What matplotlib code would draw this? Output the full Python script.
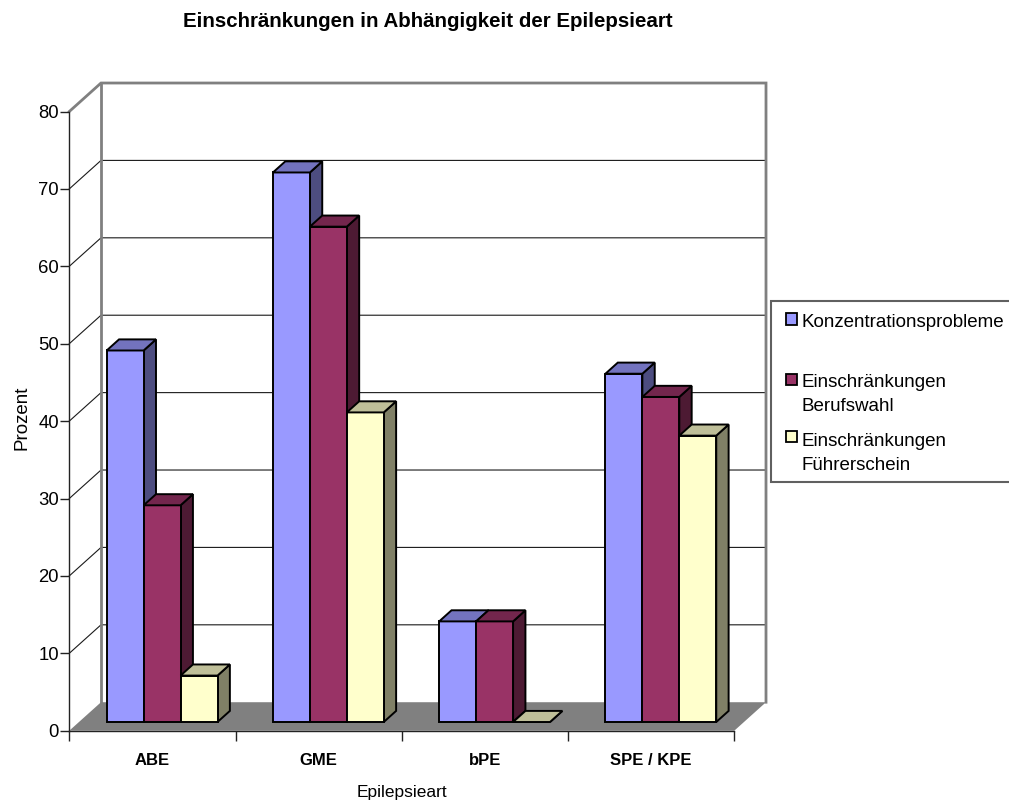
import matplotlib
matplotlib.use("Agg")
import matplotlib.pyplot as plt
import matplotlib.transforms as mtransforms
from matplotlib.patches import Polygon, Rectangle
from matplotlib.colors import to_rgb

plt.rcParams["font.family"] = ["Liberation Sans", "DejaVu Sans"]

# ---- data -------------------------------------------------------------
categories = ["ABE", "GME", "bPE", "SPE / KPE"]
series_labels = ["Konzentrationsprobleme",
                 "Einschränkungen\nBerufswahl",
                 "Einschränkungen\nFührerschein"]
konzentration = [48, 71, 13, 45]
berufswahl = [28, 64, 13, 42]
fuehrerschein = [6, 40, 0, 37]
y_ticks = [0, 10, 20, 30, 40, 50, 60, 70, 80]

series_values = [konzentration, berufswahl, fuehrerschein]
front_colors = ["#9999FF", "#993366", "#FFFFCC"]

title = "Einschränkungen in Abhängigkeit der Epilepsieart"
x_label = "Epilepsieart"
y_label = "Prozent"

# ---- oblique 3-D projection parameters (data units) --------------------
DEPTH_X = 0.1907      # horizontal shift of the back wall, in category units
DEPTH_Y = 3.68        # vertical shift of the back wall, in value units
BAR_D0, BAR_D1 = 0.305, 0.695   # depth span of the columns
GAP_WIDTH = 1.5
n_series = len(series_values)
bar_w = 1.0 / (n_series + GAP_WIDTH)
y_max = y_ticks[-1]
n_cat = len(categories)


def proj(x, v, d):
    return (x + d * DEPTH_X, v + d * DEPTH_Y)


def shade(color, f):
    r, g, b = to_rgb(color)
    return (r * f, g * f, b * f)


# ---- figure / axes ----------------------------------------------------
W, H = 1009, 800
fig = plt.figure(figsize=(W / 100, H / 100), dpi=100)
px_x, px_y = 166.25, 7.74
ox, oy = 69.3, 730.7
XMAX, YMAX = 4.25, 84.5
ax = fig.add_axes([ox / W, (H - oy) / H, XMAX * px_x / W, YMAX * px_y / H])
ax.set_xlim(0, XMAX)
ax.set_ylim(0, YMAX)
ax.patch.set_visible(False)
for s in ("top", "right"):
    ax.spines[s].set_visible(False)
ax.spines["left"].set_bounds(0, y_max)
ax.spines["bottom"].set_bounds(0, n_cat)
for s in ("left", "bottom"):
    ax.spines[s].set_color("#222222")
    ax.spines[s].set_linewidth(1.0)
    ax.spines[s].set_zorder(6)

ax.set_yticks(y_ticks)
ax.tick_params(axis="y", length=6.5, width=1.0, color="#222222", pad=1.0,
               labelsize=13.3)
ax.set_xticks(range(n_cat + 1))
ax.set_xticklabels([])
ax.tick_params(axis="x", length=7.5, width=1.0, color="#222222")

wall_edge = "#808080"

# back wall
back = [proj(0, 0, 1), proj(n_cat, 0, 1), proj(n_cat, y_max, 1), proj(0, y_max, 1)]
ax.add_patch(Polygon(back, closed=True, facecolor="white", edgecolor="none",
                     zorder=0.5, clip_on=False))
# left wall
left = [proj(0, 0, 0), proj(0, 0, 1), proj(0, y_max, 1), proj(0, y_max, 0)]
ax.add_patch(Polygon(left, closed=True, facecolor="white", edgecolor="none",
                     zorder=0.5, clip_on=False))

# gridlines on back and left walls
for v in y_ticks[1:-1]:
    xs, ys = zip(proj(0, v, 0), proj(0, v, 1), proj(n_cat, v, 1))
    ax.plot(xs, ys, color="#1a1a1a", lw=0.8, zorder=1, clip_on=False)

# wall outline
xs, ys = zip(proj(0, y_max, 0), proj(0, y_max, 1), proj(n_cat, y_max, 1),
             proj(n_cat, 0, 1))
ax.plot(xs, ys, color=wall_edge, lw=2.0, zorder=1.2, clip_on=False,
        solid_joinstyle="miter")
xs, ys = zip(proj(0, 0, 1), proj(0, y_max, 1))
ax.plot(xs, ys, color=wall_edge, lw=2.0, zorder=1.2, clip_on=False)

# floor
floor = [proj(0, 0, 0), proj(n_cat, 0, 0), proj(n_cat, 0, 1), proj(0, 0, 1)]
ax.add_patch(Polygon(floor, closed=True, facecolor="#808080", edgecolor="none",
                     zorder=2, clip_on=False))

# ---- columns ------------------------------------------------------------
z = 3
group_start = (1 - n_series * bar_w) / 2
for ci in range(n_cat):
    for si, vals in enumerate(series_values):
        v = vals[ci]
        xa = ci + group_start + si * bar_w
        xb = xa + bar_w
        fc = front_colors[si]
        side = [proj(xb, 0, BAR_D0), proj(xb, 0, BAR_D1),
                proj(xb, v, BAR_D1), proj(xb, v, BAR_D0)]
        front = [proj(xa, 0, BAR_D0), proj(xb, 0, BAR_D0),
                 proj(xb, v, BAR_D0), proj(xa, v, BAR_D0)]
        top = [proj(xa, v, BAR_D0), proj(xb, v, BAR_D0),
               proj(xb, v, BAR_D1), proj(xa, v, BAR_D1)]
        for poly, col in ((side, shade(fc, 0.5)), (front, fc),
                          (top, shade(fc, 0.75))):
            ax.add_patch(Polygon(poly, closed=True, facecolor=col,
                                 edgecolor="black", lw=1.4,
                                 joinstyle="miter", zorder=z, clip_on=False))
        z += 0.01

# ---- labels --------------------------------------------------------------
cat_trans = mtransforms.blended_transform_factory(ax.transData, fig.transFigure)
for ci, name in enumerate(categories):
    ax.text(ci + 0.5, 1 - 765 / H, name, transform=cat_trans, ha="center",
            va="baseline", fontsize=12, fontweight="bold")

fig.text(402 / W, 1 - 796.5 / H, x_label, ha="center", va="baseline",
         fontsize=12.5)
fig.text(26 / W, 1 - 418 / H, y_label, rotation=90, ha="center",
         va="baseline", fontsize=13.5, rotation_mode="anchor")
fig.text(428 / W, 1 - 26.7 / H, title, ha="center", va="baseline",
         fontsize=14.8, fontweight="bold")

# ---- legend ----------------------------------------------------------
fig.patches.append(Rectangle((771 / W, 1 - 482 / H), 300 / W, 181 / H,
                             transform=fig.transFigure, facecolor="white",
                             edgecolor="#606060", lw=1.5, zorder=5))
marker_y = [319, 379, 436]
text_first_base = [326.7, 386.7, 446.0]
line_step = 24.0
for si, lab in enumerate(series_labels):
    sq = 11
    fig.patches.append(Rectangle((786 / W, 1 - (marker_y[si] + sq / 2) / H),
                                 sq / W, sq / H, transform=fig.transFigure,
                                 facecolor=front_colors[si], edgecolor="black",
                                 lw=1.3, zorder=6))
    for li, line in enumerate(lab.split("\n")):
        fig.text(801.5 / W, 1 - (text_first_base[si] + li * line_step) / H,
                 line, ha="left", va="baseline", fontsize=13.5, zorder=7)

fig.savefig("out.png", dpi=100)
